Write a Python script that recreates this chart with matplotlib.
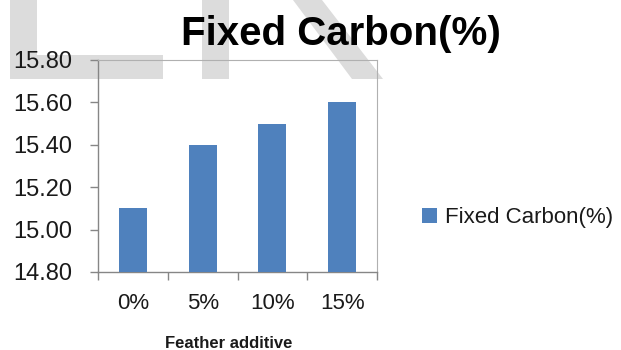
import matplotlib.pyplot as plt
from matplotlib.patches import Rectangle, Polygon
from matplotlib.ticker import FormatStrFormatter, FixedLocator

categories = ['0%', '5%', '10%', '15%']
fixed_carbon = [15.10, 15.40, 15.50, 15.60]
y_ticks = [14.80, 15.00, 15.20, 15.40, 15.60, 15.80]

plt.rcParams['font.family'] = ['Liberation Sans', 'DejaVu Sans']

W, H = 621, 350
fig = plt.figure(figsize=(W / 100, H / 100), dpi=100)
fig.patch.set_facecolor('white')

# light grey watermark behind the chart (pixel coords, y from top)
wm = '#DCDCDC'
def px(x, y):
    return (x / W, 1 - y / H)
for x0, y0, x1, y1 in [(10, 0, 37, 79), (10, 55, 163, 79), (202, 0, 229, 79)]:
    fig.add_artist(Rectangle(px(x0, y1), (x1 - x0) / W, (y1 - y0) / H,
                             transform=fig.transFigure, color=wm, lw=0, zorder=0))
fig.add_artist(Polygon([px(293, 0), px(322, 0), px(383, 79), px(352, 79)],
                       closed=True, transform=fig.transFigure, color=wm, lw=0, zorder=0))

ax = fig.add_axes([98 / W, 1 - 272 / H, 279 / W, 212 / H])
ax.set_facecolor('none')
ax.set_zorder(2)

x = range(len(categories))
ax.bar(x, fixed_carbon, width=0.4, color='#4F81BD', label='Fixed Carbon(%)', zorder=3)

ax.set_xlim(-0.5, len(categories) - 0.5)
ax.set_ylim(y_ticks[0], y_ticks[-1])
ax.set_yticks(y_ticks)
ax.yaxis.set_major_formatter(FormatStrFormatter('%.2f'))
ax.set_xticks(list(x))
ax.set_xticklabels(categories)
ax.xaxis.set_minor_locator(FixedLocator([i - 0.5 for i in range(len(categories) + 1)]))

ax.tick_params(axis='y', direction='out', length=5.8, width=1, color='#868686',
               labelsize=17, labelcolor='#1a1a1a', pad=13)
ax.tick_params(axis='x', which='major', length=0, labelsize=16,
               labelcolor='#1a1a1a', pad=15)
ax.tick_params(axis='x', which='minor', direction='out', length=5.8, width=1,
               color='#868686')

for s in ['left', 'bottom']:
    ax.spines[s].set_color('#868686')
    ax.spines[s].set_linewidth(1)
for s in ['top', 'right']:
    ax.spines[s].set_color('#B0B0B0')
    ax.spines[s].set_linewidth(0.8)

ax.set_xlabel('Feather additive', fontsize=12, fontweight='bold', color='#1a1a1a')
ax.xaxis.set_label_coords((229 - 98) / 279, -(348 - 272) / 212)
ax.xaxis.label.set_va('baseline')

fig.text(341 / W, 1 - 45 / H, 'Fixed Carbon(%)', fontsize=29, fontweight='bold',
         ha='center', va='baseline', color='black')

fig.legend(loc='center left', bbox_to_anchor=(422 / W, 1 - 218 / H), frameon=False,
           fontsize=16, handlelength=0.68, handleheight=0.68, handletextpad=0.36,
           borderpad=0, borderaxespad=0, labelcolor='#1a1a1a')

fig.savefig('out.png', dpi=100)
